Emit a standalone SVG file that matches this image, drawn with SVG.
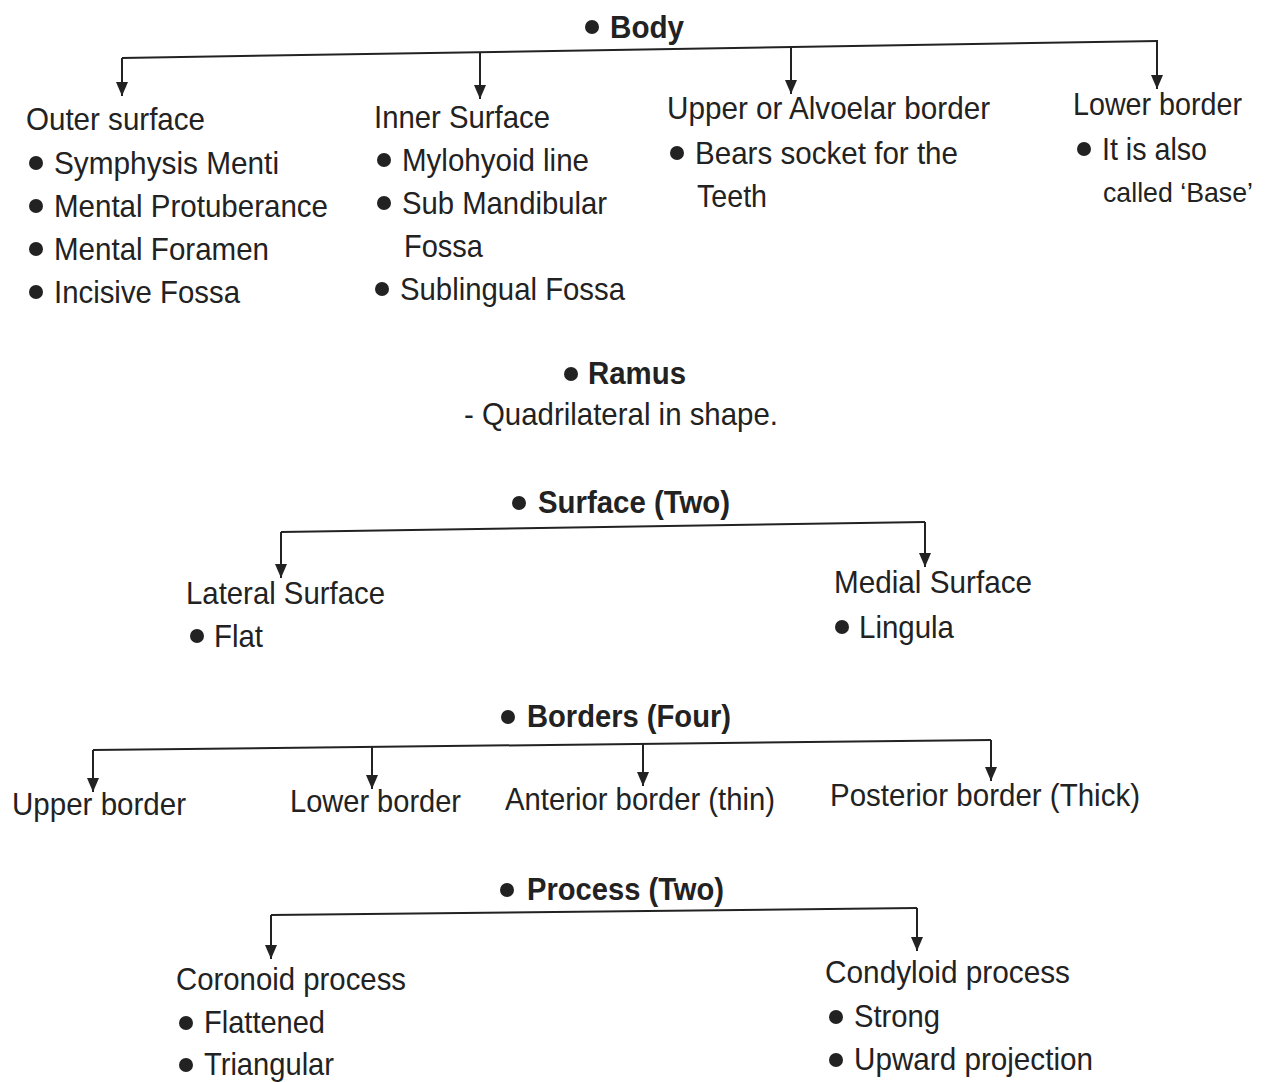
<svg xmlns="http://www.w3.org/2000/svg" width="1279" height="1082" viewBox="0 0 1279 1082">
<defs>
<style>
text{font-family:"Liberation Sans",Arial,sans-serif;font-size:32px;fill:#222}
.b{font-weight:bold}
.dot{fill:#222}
.c{stroke:#222;stroke-width:2;fill:none}
</style>
<marker id="ah" markerWidth="15" markerHeight="12" refX="14" refY="6" orient="auto" markerUnits="userSpaceOnUse" viewBox="0 0 15 12">
<path d="M0,0 L14,6 L0,12 Z" fill="#222"/>
</marker>
</defs>
<rect width="1279" height="1082" fill="#fff"/>
<g id="connectors">
<path class="c" d="M122,58 L1158,41"/>
<path class="c" d="M122,58 V96" marker-end="url(#ah)"/>
<path class="c" d="M480,52 V99" marker-end="url(#ah)"/>
<path class="c" d="M791,47 V94" marker-end="url(#ah)"/>
<path class="c" d="M1157,41 V89" marker-end="url(#ah)"/>
<path class="c" d="M281,532 L925,522"/>
<path class="c" d="M281,532 V578" marker-end="url(#ah)"/>
<path class="c" d="M925,522 V567" marker-end="url(#ah)"/>
<path class="c" d="M93,750 L991,740"/>
<path class="c" d="M93,750 V792" marker-end="url(#ah)"/>
<path class="c" d="M372,747 V789" marker-end="url(#ah)"/>
<path class="c" d="M643,744 V786" marker-end="url(#ah)"/>
<path class="c" d="M991,740 V781" marker-end="url(#ah)"/>
<path class="c" d="M271,915 L917,908"/>
<path class="c" d="M271,915 V959" marker-end="url(#ah)"/>
<path class="c" d="M917,908 V951" marker-end="url(#ah)"/>
</g>
<g id="body">
<circle class="dot" cx="592" cy="27" r="7"/>
<text class="b" x="610" y="38" textLength="74" lengthAdjust="spacingAndGlyphs">Body</text>
</g>
<g id="outer-surface">
<text x="26" y="130" textLength="179" lengthAdjust="spacingAndGlyphs">Outer surface</text>
<circle class="dot" cx="36" cy="163" r="7"/>
<text x="54" y="174" textLength="225" lengthAdjust="spacingAndGlyphs">Symphysis Menti</text>
<circle class="dot" cx="36" cy="206" r="7"/>
<text x="54" y="217" textLength="274" lengthAdjust="spacingAndGlyphs">Mental Protuberance</text>
<circle class="dot" cx="36" cy="249" r="7"/>
<text x="54" y="260" textLength="215" lengthAdjust="spacingAndGlyphs">Mental Foramen</text>
<circle class="dot" cx="36" cy="292" r="7"/>
<text x="54" y="303" textLength="186" lengthAdjust="spacingAndGlyphs">Incisive Fossa</text>
</g>
<g id="inner-surface">
<text x="374" y="128" textLength="176" lengthAdjust="spacingAndGlyphs">Inner Surface</text>
<circle class="dot" cx="384" cy="160" r="7"/>
<text x="402" y="171" textLength="187" lengthAdjust="spacingAndGlyphs">Mylohyoid line</text>
<circle class="dot" cx="384" cy="203" r="7"/>
<text x="402" y="214" textLength="205" lengthAdjust="spacingAndGlyphs">Sub Mandibular</text>
<text x="404" y="257" textLength="79" lengthAdjust="spacingAndGlyphs">Fossa</text>
<circle class="dot" cx="382" cy="289" r="7"/>
<text x="400" y="300" textLength="225" lengthAdjust="spacingAndGlyphs">Sublingual Fossa</text>
</g>
<g id="upper-border-body">
<text x="667" y="119" textLength="323" lengthAdjust="spacingAndGlyphs">Upper or Alvoelar border</text>
<circle class="dot" cx="677" cy="153" r="7"/>
<text x="695" y="164" textLength="263" lengthAdjust="spacingAndGlyphs">Bears socket for the</text>
<text x="697" y="207" textLength="70" lengthAdjust="spacingAndGlyphs">Teeth</text>
</g>
<g id="lower-border-body">
<text x="1073" y="115" textLength="169" lengthAdjust="spacingAndGlyphs">Lower border</text>
<circle class="dot" cx="1084" cy="149" r="7"/>
<text x="1102" y="160" textLength="105" lengthAdjust="spacingAndGlyphs">It is also</text>
<text x="1103" y="202" style="font-size:28px" textLength="150" lengthAdjust="spacingAndGlyphs">called ‘Base’</text>
</g>
<g id="ramus">
<circle class="dot" cx="571" cy="374" r="7"/>
<text class="b" x="588" y="384" textLength="98" lengthAdjust="spacingAndGlyphs">Ramus</text>
<text x="464" y="425" textLength="314" lengthAdjust="spacingAndGlyphs">- Quadrilateral in shape.</text>
</g>
<g id="surface-two">
<circle class="dot" cx="519" cy="503" r="7"/>
<text class="b" x="538" y="513" textLength="192" lengthAdjust="spacingAndGlyphs">Surface (Two)</text>
</g>
<g id="lateral-surface">
<text x="186" y="604" textLength="199" lengthAdjust="spacingAndGlyphs">Lateral Surface</text>
<circle class="dot" cx="197" cy="636" r="7"/>
<text x="214" y="647" textLength="49" lengthAdjust="spacingAndGlyphs">Flat</text>
</g>
<g id="medial-surface">
<text x="834" y="593" textLength="198" lengthAdjust="spacingAndGlyphs">Medial Surface</text>
<circle class="dot" cx="842" cy="627" r="7"/>
<text x="859" y="638" textLength="95" lengthAdjust="spacingAndGlyphs">Lingula</text>
</g>
<g id="borders-four">
<circle class="dot" cx="508" cy="717" r="7"/>
<text class="b" x="527" y="727" textLength="204" lengthAdjust="spacingAndGlyphs">Borders (Four)</text>
</g>
<g id="upper-border"><text x="12" y="815" textLength="174" lengthAdjust="spacingAndGlyphs">Upper border</text></g>
<g id="lower-border"><text x="290" y="812" textLength="171" lengthAdjust="spacingAndGlyphs">Lower border</text></g>
<g id="anterior-border"><text x="505" y="810" textLength="270" lengthAdjust="spacingAndGlyphs">Anterior border (thin)</text></g>
<g id="posterior-border"><text x="830" y="806" textLength="310" lengthAdjust="spacingAndGlyphs">Posterior border (Thick)</text></g>
<g id="process-two">
<circle class="dot" cx="507" cy="890" r="7"/>
<text class="b" x="527" y="900" textLength="197" lengthAdjust="spacingAndGlyphs">Process (Two)</text>
</g>
<g id="coronoid">
<text x="176" y="990" textLength="230" lengthAdjust="spacingAndGlyphs">Coronoid process</text>
<circle class="dot" cx="186" cy="1023" r="7"/>
<text x="204" y="1033" textLength="121" lengthAdjust="spacingAndGlyphs">Flattened</text>
<circle class="dot" cx="186" cy="1065" r="7"/>
<text x="204" y="1075" textLength="130" lengthAdjust="spacingAndGlyphs">Triangular</text>
</g>
<g id="condyloid">
<text x="825" y="983" textLength="245" lengthAdjust="spacingAndGlyphs">Condyloid process</text>
<circle class="dot" cx="836" cy="1017" r="7"/>
<text x="854" y="1027" textLength="86" lengthAdjust="spacingAndGlyphs">Strong</text>
<circle class="dot" cx="836" cy="1060" r="7"/>
<text x="854" y="1070" textLength="239" lengthAdjust="spacingAndGlyphs">Upward projection</text>
</g>
</svg>
